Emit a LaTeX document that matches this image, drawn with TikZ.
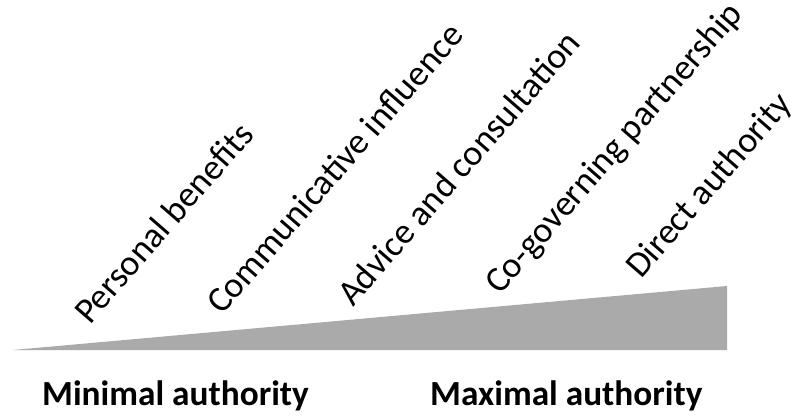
\documentclass[tikz,border=0pt]{standalone}
\usepackage{fontspec}
\setmainfont{Carlito}
\begin{document}
\begin{tikzpicture}[x=1pt,y=-1pt,
  lab/.style={inner sep=0pt, anchor=base west, rotate=49, font=\fontsize{36}{43}\selectfont},
  endlab/.style={inner sep=0pt, anchor=base west, font=\fontsize{35.3}{42}\selectfont\bfseries},
  wedge/.style={fill={rgb,255:red,170;green,170;blue,170}, draw=none}]
\useasboundingbox (0,0) rectangle (806,417);
\coordinate (tip) at (13,350);
\coordinate (br) at (727,350);
\coordinate (tr) at (727,286);
\fill[wedge] (tip) -- (br) -- (tr) -- cycle;
\node[lab] (pb) at (90,326) {Personal benefits};
\node[lab] (ci) at (222,316) {Communicative influence};
\node[lab] (ac) at (353,308) {Advice and consultation};
\node[lab] (cg) at (500,296) {Co-governing partnership};
\node[lab] (da) at (641,280) {Direct authority};
\node[endlab] (min) at (42,405) {Minimal authority};
\node[endlab] (max) at (430,405) {Maximal authority};
\end{tikzpicture}
\end{document}
